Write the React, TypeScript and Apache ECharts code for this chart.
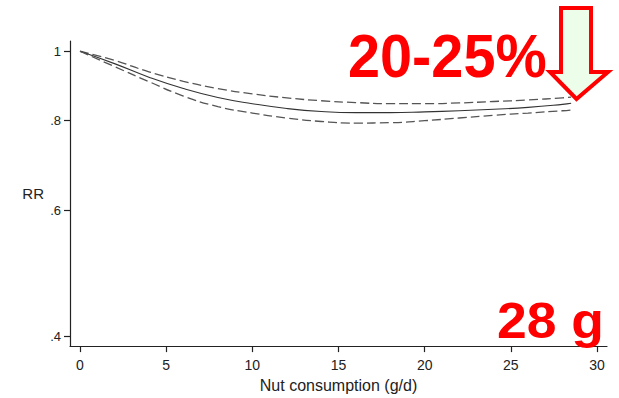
import React, { useEffect, useRef } from "react";
import * as echarts from "echarts";

const nutGrams = [0, 2, 4, 6, 8, 10, 12, 14, 16, 18, 20, 22, 24, 26, 28, 28.5];
const rrEstimate = [1, 0.961, 0.92, 0.887, 0.862, 0.845, 0.832, 0.824, 0.821, 0.821, 0.823, 0.826, 0.83, 0.835, 0.843, 0.846];
const rrUpper = [1, 0.971, 0.936, 0.908, 0.887, 0.872, 0.861, 0.853, 0.848, 0.845, 0.845, 0.847, 0.851, 0.855, 0.861, 0.863];
const rrLower = [1, 0.952, 0.907, 0.866, 0.837, 0.82, 0.807, 0.798, 0.794, 0.795, 0.8, 0.807, 0.814, 0.82, 0.826, 0.828];

const xTicks = [0, 5, 10, 15, 20, 25, 30];
const yTicks = [0.4, 0.6, 0.8, 1];
const yTickLabels = [".4", ".6", ".8", "1"];

const xMin = -0.58;
const xMax = 30.58;
const rrMin = 0.3878;
const rrMax = 1.0335;

const axisFont = "'Liberation Sans', Arial, sans-serif";

export default function App() {
  const ref = useRef<HTMLDivElement>(null);

  useEffect(() => {
    if (!ref.current) return;
    const chart = echarts.init(ref.current, undefined, { renderer: "svg" });
    const toLog = (v: number) => Math.log10(v);
    const mk = (ys: number[]) => nutGrams.map((x, i) => [x, toLog(ys[i])]);
    const yLogTicks = yTicks.map(toLog);

    const option: any = {
      animation: false,
      backgroundColor: "#ffffff",
      grid: { left: 70, right: 12, top: 41, bottom: 45, containLabel: false },
      xAxis: {
        type: "value",
        min: xMin,
        max: xMax,
        name: "Nut consumption (g/d)",
        nameLocation: "middle",
        nameGap: 29,
        nameTextStyle: { fontFamily: axisFont, fontSize: 16, color: "#222" },
        axisLine: { show: true, onZero: false, lineStyle: { color: "#222", width: 1.2 } },
        axisTick: { show: true, length: 6, customValues: xTicks, lineStyle: { color: "#222", width: 1.2 } },
        axisLabel: {
          customValues: xTicks,
          margin: 12,
          fontFamily: axisFont,
          fontSize: 14,
          color: "#222",
        },
        splitLine: { show: false },
      },
      yAxis: {
        type: "value",
        min: toLog(rrMin),
        max: toLog(rrMax),
        name: "RR",
        nameLocation: "middle",
        nameRotate: 0,
        nameGap: 26,
        nameTextStyle: { fontFamily: axisFont, fontSize: 15, color: "#222" },
        axisLine: { show: true, onZero: false, lineStyle: { color: "#222", width: 1.2 } },
        axisTick: { show: true, length: 6, customValues: yLogTicks, lineStyle: { color: "#222", width: 1.2 } },
        axisLabel: {
          customValues: yLogTicks,
          margin: 9,
          fontFamily: axisFont,
          fontSize: 13,
          color: "#222",
          formatter: (v: number) => {
            let best = 0;
            yLogTicks.forEach((t, i) => {
              if (Math.abs(t - v) < Math.abs(yLogTicks[best] - v)) best = i;
            });
            return yTickLabels[best];
          },
        },
        splitLine: { show: false },
      },
      series: [
        {
          name: "upper",
          type: "line",
          data: mk(rrUpper),
          smooth: 0.5,
          showSymbol: false,
          lineStyle: { color: "#555", width: 1.3, type: [9, 4] },
        },
        {
          name: "estimate",
          type: "line",
          data: mk(rrEstimate),
          smooth: 0.5,
          showSymbol: false,
          lineStyle: { color: "#333", width: 1.1, type: "solid" },
        },
        {
          name: "lower",
          type: "line",
          data: mk(rrLower),
          smooth: 0.5,
          showSymbol: false,
          lineStyle: { color: "#555", width: 1.3, type: [9, 4] },
        },
      ],
      graphic: [
        {
          type: "polygon",
          z: 100,
          shape: {
            points: [
              [561, 8],
              [591, 8],
              [591, 72],
              [608, 72],
              [576.5, 99],
              [550, 72],
              [561, 72],
            ],
          },
          style: { fill: "#ecfde9", stroke: "#ff0000", lineWidth: 4, lineJoin: "miter" },
        },
        {
          type: "text",
          z: 101,
          x: 348,
          y: 56,
          scaleX: 0.93,
          style: {
            text: "20-25%",
            font: "bold 62px 'Liberation Sans', Arial, sans-serif",
            fill: "#ff0000",
            align: "left",
            verticalAlign: "middle",
          },
        },
        {
          type: "text",
          z: 101,
          x: 497,
          y: 321,
          scaleX: 1.07,
          style: {
            text: "28 g",
            font: "bold 50px 'Liberation Sans', Arial, sans-serif",
            fill: "#ff0000",
            align: "left",
            verticalAlign: "middle",
          },
        },
      ],
    };
    chart.setOption(option);
    return () => chart.dispose();
  }, []);

  return <div ref={ref} style={{ width: 619, height: 398, position: "absolute", left: 0, top: 0 }} />;
}
